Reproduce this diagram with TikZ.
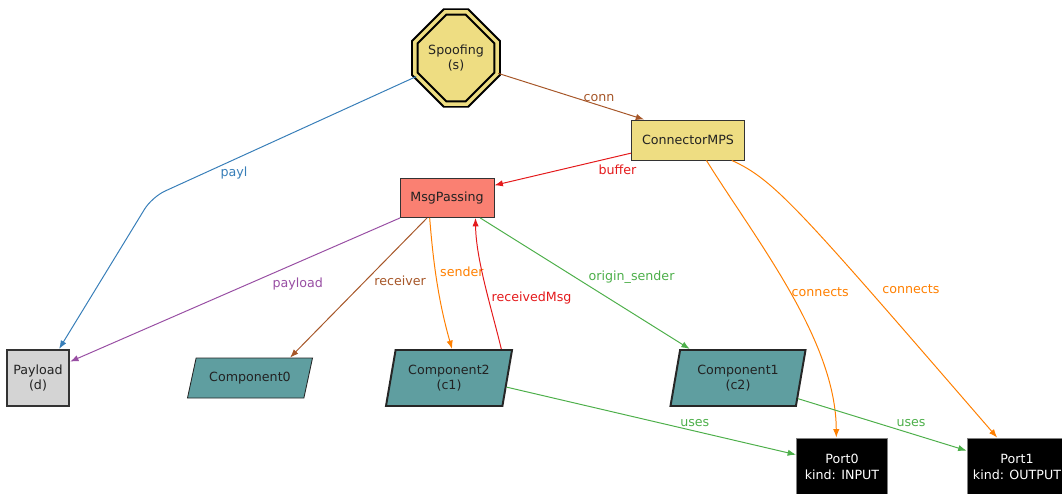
\documentclass[tikz,border=0pt]{standalone}
\usepackage{fontspec}
\setmainfont{DejaVu Sans}
\usepackage{tikz}
\usetikzlibrary{shapes,arrows,arrows.meta,positioning}
\definecolor{khaki}{HTML}{EEDD82}
\definecolor{salmon}{HTML}{FA8072}
\definecolor{cadet}{HTML}{5F9EA0}
\definecolor{ink}{HTML}{222222}
\definecolor{cred}{HTML}{E41A1C}
\definecolor{cblue}{HTML}{377EB8}
\definecolor{cgreen}{HTML}{4DAF4A}
\definecolor{cpurple}{HTML}{984EA3}
\definecolor{corange}{HTML}{FF7F00}
\definecolor{cbrown}{HTML}{A65628}
\tikzstyle{spoof} = [chamfered rectangle, chamfered rectangle xsep=0.42cm,
    chamfered rectangle ysep=0.42cm, minimum width=1.95cm, minimum height=2.3cm,
    fill=khaki, draw=black, double=khaki, double distance=2.5pt, line width=1.4pt,
    text=ink, align=center, inner sep=0pt]
\tikzstyle{box} = [draw=black!80, rectangle, text=ink, align=center, line width=0.6pt]
\tikzstyle{comp} = [draw=black!85, trapezium, trapezium left angle=75,
    trapezium right angle=105, trapezium stretches body, fill=cadet, text=ink,
    align=center, line width=0.6pt]
\tikzstyle{port} = [draw=gray, rectangle, fill=black, text=white, align=center,
    line width=0.6pt]
\tikzstyle{edge} = [-{Latex[length=6pt,width=4.5pt]}, line width=0.7pt]
\tikzstyle{lbl} = [inner sep=1pt]

\begin{document}
\begin{tikzpicture}[x=0.025cm, y=-0.025cm, font=\fontsize{9}{11}\selectfont]
  \useasboundingbox (0,0) rectangle (1062,493);
  % nodes
  \node [spoof] (spoof) at (456,58) {Spoofing\\(s)};
  \node [box, fill=khaki, minimum width=2.825cm, minimum height=1cm] (conn)
  at (688,140) {ConnectorMPS};
  \node [box, fill=salmon, minimum width=2.35cm, minimum height=0.975cm] (msg)
  at (447,198) {MsgPassing};
  \node [box, fill=black!17, line width=1.5pt, minimum width=1.55cm,
    minimum height=1.4cm] (payl) at (38,378) {Payload\\(d)};
  \node [comp, trapezium left angle=68, trapezium right angle=112,
    minimum width=3.125cm, minimum height=1cm] (comp0)
  at (250,378) {Component0};
  \node [comp, line width=1.4pt, minimum width=3.15cm, minimum height=1.4cm] (comp2)
  at (449,378) {Component2\\(c1)};
  \node [comp, line width=1.4pt, minimum width=3.375cm, minimum height=1.4cm] (comp1)
  at (738,378) {Component1\\(c2)};
  \node [port, minimum width=2.275cm, minimum height=1.45cm] (port0)
  at (842,467) {Port0\\kind: INPUT};
  \node [port, minimum width=2.5cm, minimum height=1.45cm] (port1)
  at (1017,467) {Port1\\kind: OUTPUT};
  \coordinate (bend) at (152,197);
  % connectors
  \draw [edge, cblue, rounded corners=10pt] (spoof.205)
    -- node [lbl, pos=0.69, below=4pt] {payl} (bend) -- (payl.54);
  \draw [edge, cbrown] (spoof.-20) -- (conn.155)
    node [lbl, pos=0.69, above=1pt] {conn};
  \draw [edge, cred] (conn.193) -- (msg.15)
    node [lbl, pos=0.1, below=4.5pt] {buffer};
  \draw [edge, corange] (conn.-48) .. controls (756,240) and (836,340) .. (port0.101)
    node [lbl, pos=0.5, right=0pt] {connects};
  \draw [edge, corange] (conn.-25) .. controls (775,180) and (800,210) .. (port1.124)
    node [lbl, pos=0.72, right=9pt] {connects};
  \draw [edge, cpurple] (msg.203) -- (payl.27)
    node [lbl, pos=0.31, below=9.5pt] {payload};
  \draw [edge, cbrown] (msg.225) -- (comp0.27)
    node [lbl, pos=0.45, right=5pt] {receiver};
  \draw [edge, corange] (msg.229) .. controls (433,260) and (438,300) .. (comp2.84)
    node [lbl, pos=0.43, right=2pt] {sender};
  \draw [edge, cred] (comp2.29) .. controls (492,310) and (476,260) .. (msg.-35)
    node [lbl, pos=0.4, right=1pt] {receivedMsg};
  \draw [edge, cgreen] (msg.-31) -- (comp1.149)
    node [lbl, pos=0.455, right=8pt] {origin\_sender};
  \draw [edge, cgreen] (comp2.-9) -- (port0.165)
    node [lbl, pos=0.65, above=1.5pt] {uses};
  \draw [edge, cgreen] (comp1.-19) -- (port1.162)
    node [lbl, pos=0.67, above=3.5pt] {uses};
\end{tikzpicture}
\end{document}
